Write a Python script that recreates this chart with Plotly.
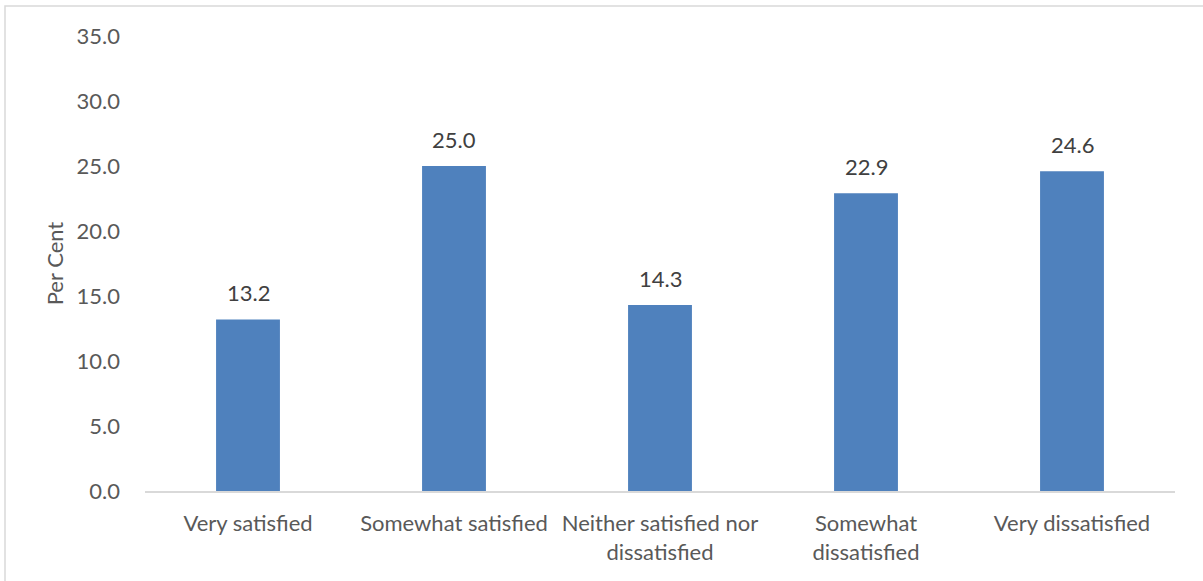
import plotly.graph_objects as go

categories = ["Very satisfied", "Somewhat satisfied", "Neither satisfied nor<br>dissatisfied",
              "Somewhat<br>dissatisfied", "Very dissatisfied"]
values = [13.2, 25.0, 14.3, 22.9, 24.6]
y_ticks = [0, 5, 10, 15, 20, 25, 30, 35]

W, H = 1203, 581
ml, mr, mt, mb = 145, 28, 36, 90
pw, ph = W - ml - mr, H - mt - mb

font = "Lato, 'Open Sans', sans-serif"
txt = "#595959"
fs = 22

fig = go.Figure(go.Bar(
    x=categories, y=values, marker=dict(color="#4F81BD", line=dict(width=0)),
    width=0.31, cliponaxis=False,
))

for c, v in zip(categories, values):
    fig.add_annotation(x=c, y=v, text=f"{v:.1f}", showarrow=False, yanchor="bottom",
                       yshift=11, font=dict(family=font, size=fs, color="#404040"))

fig.update_layout(
    width=W, height=H, margin=dict(l=ml, r=mr, t=mt, b=mb, autoexpand=False),
    paper_bgcolor="white", plot_bgcolor="white", showlegend=False,
    font=dict(family=font, size=fs, color=txt),
    xaxis=dict(showgrid=False, showline=True, linecolor="#D9D9D9", linewidth=1.5,
               tickfont=dict(size=fs, color=txt), ticks="", ticklabelstandoff=12,
               automargin=False),
    yaxis=dict(range=[0, 35], tickvals=y_ticks, ticktext=[f"{v:.1f}" for v in y_ticks],
               showgrid=False, zeroline=False, showline=False, ticks="",
               ticklabelstandoff=24, tickfont=dict(size=fs, color=txt), automargin=False,
               title=dict(text="Per Cent", font=dict(size=fs, color=txt), standoff=6)),
    bargap=0.69,
)

fig.add_shape(type="rect", xref="paper", yref="paper",
              x0=(5 - ml) / pw, x1=(1215 - ml) / pw,
              y0=-(595 - mt - ph) / ph, y1=1 + (mt - 6) / ph,
              line=dict(color="#D9D9D9", width=1.5), fillcolor="rgba(0,0,0,0)", layer="below")

fig.write_html("out.html", config={"displayModeBar": False},
               post_script="document.body.style.margin='0px';document.body.style.overflow='hidden';")
